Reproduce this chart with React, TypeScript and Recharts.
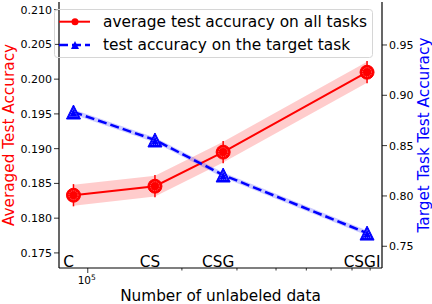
import React from "react"
import {
  Area,
  ComposedChart,
  ErrorBar,
  LabelList,
  Legend,
  Line,
  XAxis,
  YAxis,
} from "recharts"

const CATEGORIES = ["C", "CS", "CSG", "CSGI"]
const UNLABELED = [90000, 164000, 271000, 782000]
const AVG_ACC = [0.1833, 0.1846, 0.1895, 0.201]
const AVG_ERR = [0.0016, 0.0016, 0.0016, 0.0016]
const AVG_BAND = [0.0015, 0.0015, 0.0015, 0.0015]
const TARGET_ACC = [0.8834, 0.8556, 0.8208, 0.7631]
const TARGET_BAND = [0.0025, 0.0025, 0.0025, 0.0025]

const X_TICKS = [100000, 200000, 300000, 400000, 500000, 600000, 700000, 800000]
const LEFT_TICKS = [0.175, 0.18, 0.185, 0.19, 0.195, 0.2, 0.205, 0.21]
const RIGHT_TICKS = [0.75, 0.8, 0.85, 0.9, 0.95]

const data = CATEGORIES.map((name, i) => ({
  name,
  n: UNLABELED[i],
  avg: AVG_ACC[i],
  avgErr: AVG_ERR[i],
  avgBand: [AVG_ACC[i] - AVG_BAND[i], AVG_ACC[i] + AVG_BAND[i]],
  target: TARGET_ACC[i],
  targetBand: [TARGET_ACC[i] - TARGET_BAND[i], TARGET_ACC[i] + TARGET_BAND[i]],
}))

const FONT = "DejaVu Sans"
const PLOT_BOTTOM = 268

const XTick = (props: any) => {
  const { x, y, payload } = props
  const major = payload.value === 100000
  return (
    <g>
      <line x1={x} x2={x} y1={y} y2={y + (major ? 5 : 2.5)} stroke="#000" strokeWidth={0.8} />
      {major && (
        <text x={x - 1} y={y + 16} textAnchor="middle" fontSize={10.5} fill="#000" fontFamily={FONT}>
          10
          <tspan dy={-4} fontSize={7.5}>5</tspan>
        </text>
      )}
    </g>
  )
}

const RedDot = (p: any) => {
  if (p.cx == null) return null
  return (
    <g key={`r-${p.index}`}>
      <circle cx={p.cx} cy={p.cy} r={7} fill="#ff0000" stroke="#ff0000" strokeWidth={1} />
      <circle cx={p.cx} cy={p.cy} r={4.5} fill="none" stroke="#ff7a7a" strokeWidth={0.8} strokeDasharray="1 1" />
    </g>
  )
}

const BlueDot = (p: any) => {
  if (p.cx == null) return null
  const { cx, cy } = p
  return (
    <g key={`b-${p.index}`}>
      <polygon points={`${cx},${cy - 7} ${cx - 7},${cy + 7} ${cx + 7},${cy + 7}`} fill="#0000ff" stroke="#0000ff" strokeWidth={1} />
      <polygon points={`${cx},${cy - 3.5} ${cx - 4},${cy + 4.5} ${cx + 4},${cy + 4.5}`} fill="none" stroke="#7a7aff" strokeWidth={0.8} strokeDasharray="1 1" />
    </g>
  )
}

const CatLabel = (p: any) => (
  <text x={p.x - 5} y={PLOT_BOTTOM - 1.5} textAnchor="middle" fontSize={15.3} fill="#000" fontFamily={FONT}>
    {p.value}
  </text>
)

const LegendBox = () => (
  <svg width={319} height={49} style={{ display: "block" }}>
    <rect x={0.5} y={0.5} width={318} height={48} rx={3} fill="none" stroke="#d6d6d6" strokeWidth={1} />
    <line x1={5} x2={36} y1={12.7} y2={12.7} stroke="#ff0000" strokeWidth={2} />
    <circle cx={21} cy={12.7} r={3.5} fill="#ff0000" />
    <text x={49} y={18.3} fontSize={15.4} fill="#000" fontFamily={FONT}>average test accuracy on all tasks</text>
    <line x1={5} x2={36} y1={36} y2={36} stroke="#0000ff" strokeWidth={2.5} strokeDasharray="9 4" />
    <polygon points="21,32 17,40 25,40" fill="#0000ff" />
    <text x={49} y={41} fontSize={15.4} fill="#000" fontFamily={FONT}>test accuracy on the target task</text>
  </svg>
)

export default function App() {
  return (
    <div style={{ position: "absolute", left: 0, top: 0, width: 432, height: 304, background: "#fff", fontFamily: FONT }}>
      <ComposedChart width={432} height={304} data={data} margin={{ top: 2, right: 0, bottom: 0, left: 0 }}>
        <XAxis
          dataKey="n"
          type="number"
          scale="log"
          domain={[80900, 873000]}
          allowDataOverflow
          ticks={X_TICKS}
          interval={0}
          tick={<XTick />}
          tickLine={false}
          tickSize={0}
          tickMargin={0}
          height={36}
          axisLine={{ stroke: "#000", strokeWidth: 1.2 }}
          label={{ value: "Number of unlabeled data", position: "insideBottom", offset: 3, fontSize: 15.3, fill: "#000", fontFamily: FONT }}
        />
        <XAxis
          xAxisId="top"
          orientation="top"
          type="number"
          domain={[0, 1]}
          height={0}
          tick={false}
          tickLine={false}
          axisLine={{ stroke: "#000", strokeWidth: 1.2 }}
        />
        <YAxis
          yAxisId="left"
          width={59}
          domain={[0.17283, 0.2111]}
          allowDataOverflow
          ticks={LEFT_TICKS}
          interval={0}
          tickFormatter={(v: number) => v.toFixed(3)}
          tick={{ fontSize: 11, fill: "#000", fontFamily: FONT }}
          tickSize={5}
          tickMargin={2}
          tickLine={{ stroke: "#000", strokeWidth: 0.8 }}
          axisLine={{ stroke: "#000", strokeWidth: 1.2 }}
          label={{
            content: (p: any) => {
              const vb = p.viewBox
              const cy = vb.y + vb.height / 2
              return (
                <text x={13.5} y={cy} transform={`rotate(-90 13.5 ${cy})`} textAnchor="middle" fontSize={15.3} fill="#ff0000" fontFamily={FONT}>
                  Averaged Test Accuracy
                </text>
              )
            },
          }}
        />
        <YAxis
          yAxisId="right"
          orientation="right"
          width={50}
          domain={[0.7284, 0.9927]}
          allowDataOverflow
          ticks={RIGHT_TICKS}
          interval={0}
          tickFormatter={(v: number) => v.toFixed(2)}
          tick={{ fontSize: 11, fill: "#000", fontFamily: FONT }}
          tickSize={5}
          tickMargin={2}
          tickLine={{ stroke: "#000", strokeWidth: 0.8 }}
          axisLine={{ stroke: "#000", strokeWidth: 1.2 }}
          label={{
            content: (p: any) => {
              const vb = p.viewBox
              const cy = vb.y + vb.height / 2
              return (
                <text x={428.5} y={cy} transform={`rotate(-90 428.5 ${cy})`} textAnchor="middle" fontSize={15.3} fill="#0000ff" fontFamily={FONT}>
                  Target Task Test Accuracy
                </text>
              )
            },
          }}
        />
        <Legend layout="vertical" align="center" verticalAlign="middle" wrapperStyle={{ left: 54, top: 9, width: 319, height: 49 }} content={() => <LegendBox />} />
        <Area yAxisId="left" dataKey="avgBand" type="linear" fill="#ff0000" fillOpacity={0.2} stroke="none" isAnimationActive={false} activeDot={false} />
        <Line yAxisId="left" dataKey="avg" type="linear" stroke="#ff0000" strokeWidth={2} dot={RedDot} activeDot={false} isAnimationActive={false}>
          <ErrorBar dataKey="avgErr" width={0} stroke="#ff0000" strokeWidth={1.5} direction="y" />
          <LabelList dataKey="name" content={CatLabel} />
        </Line>
        <Area yAxisId="right" dataKey="targetBand" type="linear" fill="#0000ff" fillOpacity={0.2} stroke="none" isAnimationActive={false} activeDot={false} />
        <Line yAxisId="right" dataKey="target" type="linear" stroke="#0000ff" strokeWidth={2.5} strokeDasharray="9 4" dot={BlueDot} activeDot={false} isAnimationActive={false} />
      </ComposedChart>
    </div>
  )
}
